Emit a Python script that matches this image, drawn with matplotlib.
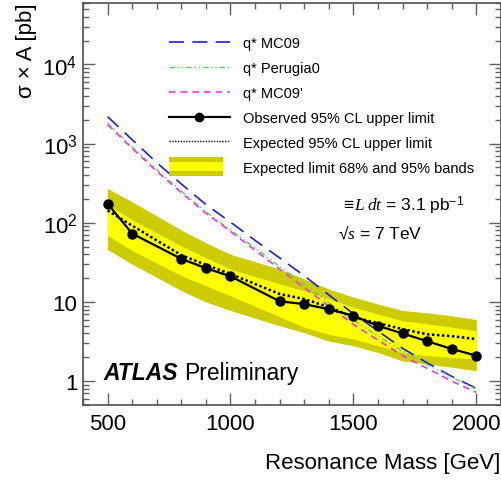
import numpy as np
import matplotlib
matplotlib.use("Agg")
import matplotlib.pyplot as plt
from matplotlib.ticker import MultipleLocator, LogLocator, FuncFormatter, NullFormatter
from matplotlib.legend_handler import HandlerBase
from matplotlib.patches import Rectangle
from matplotlib.lines import Line2D

plt.rcParams['font.family'] = ['Liberation Sans', 'DejaVu Sans']
plt.rcParams['mathtext.fontset'] = 'custom'
plt.rcParams['mathtext.rm'] = 'Liberation Sans'
plt.rcParams['mathtext.it'] = 'Liberation Serif:italic'

# theory curves (q*), every 100 GeV
theory_mass = [500, 600, 700, 800, 900, 1000, 1100, 1200, 1300, 1400,
               1500, 1600, 1700, 1800, 1900, 2000]
mc09 = [2190, 1120, 575, 309, 170, 102, 60, 36, 21.4, 12.3,
        7.1, 4.3, 2.6, 1.7, 1.15, 0.81]
perugia0 = [1820, 910, 468, 251, 138, 81, 48, 28, 16.6, 9.8,
            5.9, 3.7, 2.4, 1.62, 1.12, 0.79]
mc09p = [1740, 870, 447, 240, 132, 78, 45, 26, 15.1, 8.9,
         5.2, 3.3, 2.1, 1.45, 1.0, 0.72]

# limits
mass = [500, 600, 800, 900, 1000, 1200, 1300, 1400, 1500, 1600, 1700, 1800, 1900, 2000]
observed = [174, 73, 35, 26.7, 21.1, 10.2, 9.4, 8.1, 6.7, 5.0, 4.0, 3.2, 2.55, 2.1]
expected = [143, 92, 39, 29.4, 22.6, 12.6, 10.9, 8.6, 6.4, 5.4, 4.55, 3.9, 3.7, 3.4]
up95 = [270, 184, 81, 56, 40, 26, 19.5, 14.6, 11.5, 9.4, 7.8, 7.3, 6.7, 6.0]
up68 = [169, 109, 51, 36, 26, 16.9, 13.9, 10.9, 8.6, 7.0, 5.8, 5.3, 4.8, 4.3]
dn68 = [69, 44.6, 21.5, 16, 12, 6.5, 4.8, 3.9, 3.4, 2.8, 2.3, 2.1, 2.0, 1.9]
dn95 = [46, 30, 13.9, 10, 7.8, 5.0, 4.1, 3.2, 2.8, 2.3, 1.8, 1.64, 1.5, 1.35]

c95 = '#cccc00'
c68 = '#ffff00'


class BandHandler(HandlerBase):
    def create_artists(self, legend, orig_handle, xdescent, ydescent,
                       width, height, fontsize, trans):
        w = width * 0.88
        outer = Rectangle((-xdescent, -ydescent - 0.4 * height), w, 1.8 * height,
                          fc=c95, ec='none', transform=trans)
        inner = Rectangle((-xdescent, -ydescent + 0.05 * height), w, 0.9 * height,
                          fc=c68, ec='none', transform=trans)
        return [outer, inner]


fig = plt.figure(figsize=(5.01, 4.81), dpi=100)
ax = fig.add_axes([0.1657, 0.156, 0.834, 0.836])

ax.fill_between(mass, dn95, up95, color=c95, lw=0)
ax.fill_between(mass, dn68, up68, color=c68, lw=0)

ax.plot(theory_mass, mc09, color='#1f1fe0', lw=1.2, dashes=(9, 5))
ax.plot(theory_mass, perugia0, color='#66cc66', lw=1.0, dashes=(4, 2, 1, 2, 1, 2))
ax.plot(theory_mass, mc09p, color='#e83ce8', lw=1.2, dashes=(4, 3))
ax.plot(mass, expected, color='black', lw=1.8, ls=(0, (1, 1)))
ax.plot(mass, observed, color='black', lw=1.6, marker='o', ms=6.5)

ax.set_yscale('log')
ax.set_xlim(400, 2100)
ax.set_ylim(0.5, 6e4)

ax.xaxis.set_major_locator(MultipleLocator(500))
ax.xaxis.set_minor_locator(MultipleLocator(100))
ax.yaxis.set_major_locator(LogLocator(base=10, numticks=20))
ax.yaxis.set_minor_locator(LogLocator(base=10, subs=np.arange(2, 10), numticks=20))
ax.yaxis.set_minor_formatter(NullFormatter())


def ylab(v, pos):
    k = int(round(np.log10(v)))
    if k == 0:
        return '1'
    if k == 1:
        return '10'
    return r'$10^{%d}$' % k


ax.yaxis.set_major_formatter(FuncFormatter(ylab))
ax.tick_params(which='both', direction='in', top=True, right=True,
               color='#606060', width=1.0, labelsize=16, labelcolor='black')
ax.tick_params(which='major', length=8.5)
ax.tick_params(which='minor', length=4.3)
ax.tick_params(axis='x', which='major', pad=6)
ax.tick_params(axis='y', which='major', pad=4)
for s in ax.spines.values():
    s.set_color('#505050')
    s.set_linewidth(1.2)

ax.set_xlabel('Resonance Mass [GeV]', fontsize=16, loc='right')
ax.xaxis.set_label_coords(1.0, -0.117)
ax.set_ylabel(r'σ × A [pb]', fontsize=16, loc='top')
ax.yaxis.set_label_coords(-0.11, 1.0)

handles = [
    Line2D([], [], color='#1f1fe0', lw=1.2, dashes=(9, 5)),
    Line2D([], [], color='#66cc66', lw=1.0, dashes=(4, 2, 1, 2, 1, 2)),
    Line2D([], [], color='#e83ce8', lw=1.2, dashes=(4, 3)),
    Line2D([], [], color='black', lw=1.6, marker='o', ms=6),
    Line2D([], [], color='black', lw=1.0, ls=(0, (1, 1))),
    Rectangle((0, 0), 1, 1),
]
labels = ["q* MC09", "q* Perugia0", "q* MC09'",
          "Observed 95% CL upper limit", "Expected 95% CL upper limit",
          "Expected limit 68% and 95% bands"]
ax.legend(handles, labels, loc='upper left', bbox_to_anchor=(0.205, 0.918),
          frameon=False, fontsize=10.5, handlelength=4.2, handletextpad=0.9,
          labelspacing=0.75, borderpad=0, borderaxespad=0,
          handler_map={Rectangle: BandHandler()})

ax.text(0.617, 0.498, r'$\equiv\!L\;dt$ = 3.1 pb$^{\mathregular{-1}}$',
        transform=ax.transAxes, fontsize=12.5, va='center', ha='left')
ax.text(0.611, 0.43, r'√$s$ = 7 TeV',
        transform=ax.transAxes, fontsize=12.5, va='center', ha='left')

t1 = ax.text(0.048, 0.08, 'ATLAS', transform=ax.transAxes, fontsize=16.5,
             fontweight='bold', fontstyle='italic', va='center', ha='left')
ax.annotate('Preliminary', xy=(1, 0), xycoords=t1, xytext=(5, 0),
            textcoords='offset points', fontsize=16.5, va='bottom', ha='left')

fig.savefig('out.png', dpi=100)
